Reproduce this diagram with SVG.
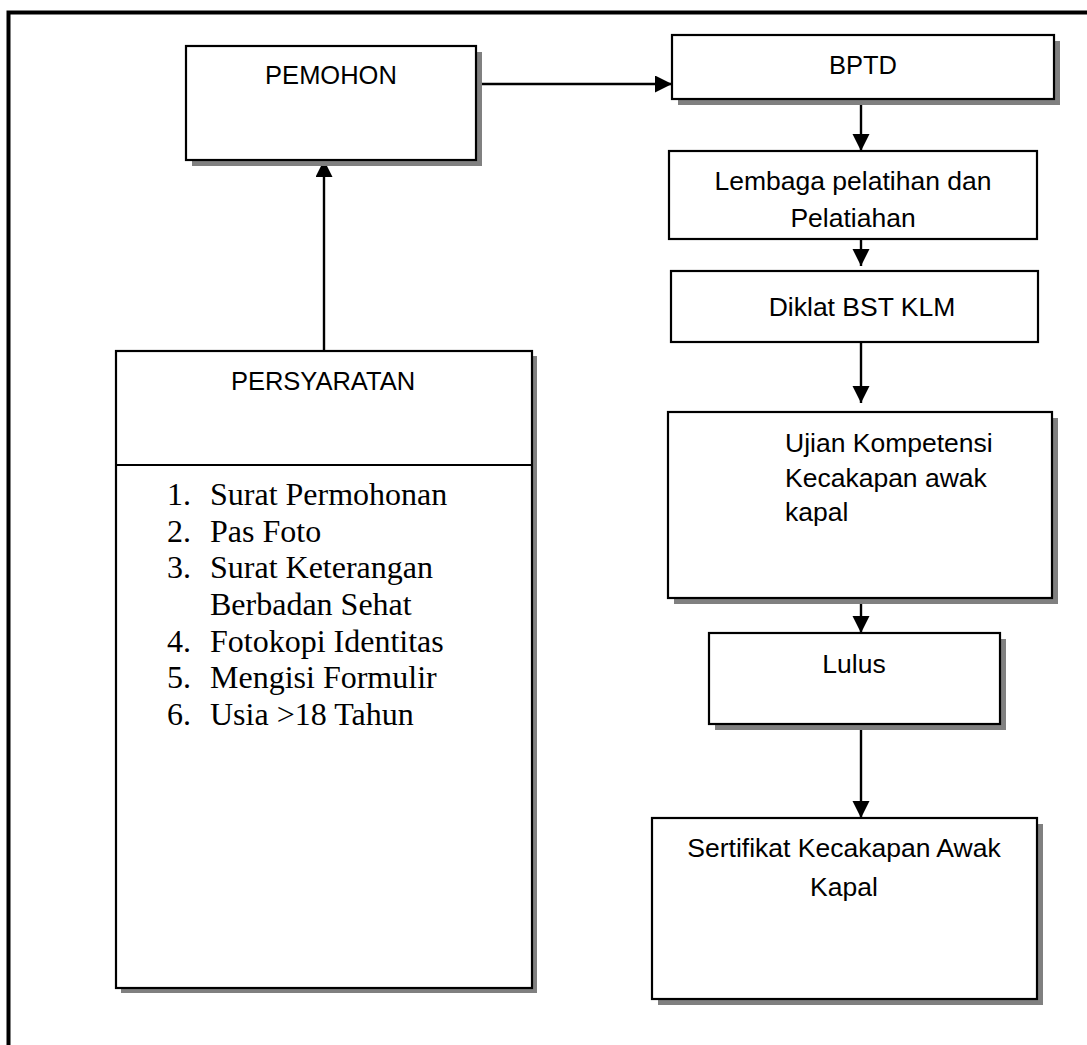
<svg xmlns="http://www.w3.org/2000/svg" width="1087" height="1045" viewBox="0 0 1087 1045">
<style>
.box{fill:#fff;stroke:#000;stroke-width:2.2}
.sh{fill:#808080}
.lbl{font-family:"Liberation Sans",Arial,sans-serif;font-size:26.5px;fill:#000}
.up{font-size:25.5px}
.c{text-anchor:middle}
.lst{font-family:"Liberation Serif","Times New Roman",serif;font-size:32px;fill:#000}
.con{stroke:#000;stroke-width:2.4;fill:none;marker-end:url(#ah)}
</style>
<defs>
<marker id="ah" markerUnits="userSpaceOnUse" markerWidth="18" markerHeight="18" refX="17" refY="8.5" orient="auto">
<path d="M0,0 L17,8.5 L0,17 Z" fill="#000"/>
</marker>
</defs>
<rect width="1087" height="1045" fill="#fff"/>
<path d="M8.5,1045 V12.5 H1087" fill="none" stroke="#000" stroke-width="4"/>

<g id="connectors">
<line class="con" x1="476" y1="84" x2="672" y2="84"/>
<line class="con" x1="861" y1="99" x2="861" y2="151"/>
<line class="con" x1="861" y1="239" x2="861" y2="266"/>
<line class="con" x1="861" y1="342" x2="861" y2="403"/>
<line class="con" x1="861" y1="598" x2="861" y2="633"/>
<line class="con" x1="861" y1="724" x2="861" y2="818"/>
<line class="con" x1="324" y1="351" x2="324" y2="160"/>
</g>

<g id="pemohon">
<rect class="sh" x="192" y="52" width="290" height="114"/>
<rect class="box" x="186" y="46" width="290" height="114"/>
<text class="lbl up c" x="331" y="84">PEMOHON</text>
</g>

<g id="bptd">
<rect class="sh" x="678" y="41" width="382" height="64"/>
<rect class="box" x="672" y="35" width="382" height="64"/>
<text class="lbl up c" x="863" y="74">BPTD</text>
</g>

<g id="lembaga">
<rect class="box" x="669" y="151" width="368" height="88"/>
<text class="lbl c" x="853" y="190">Lembaga pelatihan dan</text>
<text class="lbl c" x="853" y="227">Pelatiahan</text>
</g>

<g id="diklat">
<rect class="box" x="671" y="271" width="367" height="71"/>
<text class="lbl c" x="862" y="316">Diklat BST KLM</text>
</g>

<g id="ujian">
<rect class="sh" x="674" y="418" width="384" height="186"/>
<rect class="box" x="668" y="412" width="384" height="186"/>
<text class="lbl" x="785" y="452">Ujian Kompetensi</text>
<text class="lbl" x="785" y="487">Kecakapan awak</text>
<text class="lbl" x="785" y="521">kapal</text>
</g>

<g id="lulus">
<rect class="sh" x="715" y="639" width="291" height="91"/>
<rect class="box" x="709" y="633" width="291" height="91"/>
<text class="lbl c" x="854" y="673">Lulus</text>
</g>

<g id="sertifikat">
<rect class="sh" x="658" y="824" width="385" height="181"/>
<rect class="box" x="652" y="818" width="385" height="181"/>
<text class="lbl c" x="844" y="857">Sertifikat Kecakapan Awak</text>
<text class="lbl c" x="844" y="896">Kapal</text>
</g>

<g id="persyaratan">
<rect class="sh" x="121" y="356" width="416" height="637"/>
<rect class="box" x="116" y="351" width="416" height="637"/>
<line x1="116" y1="465" x2="532" y2="465" stroke="#000" stroke-width="2.2"/>
<text class="lbl up c" x="323" y="390">PERSYARATAN</text>
<text class="lst" x="167" y="505">1.</text><text class="lst" x="210" y="505">Surat Permohonan</text>
<text class="lst" x="167" y="541.5">2.</text><text class="lst" x="210" y="541.5">Pas Foto</text>
<text class="lst" x="167" y="578">3.</text><text class="lst" x="210" y="578">Surat Keterangan</text>
<text class="lst" x="210" y="615">Berbadan Sehat</text>
<text class="lst" x="167" y="651.5">4.</text><text class="lst" x="210" y="651.5">Fotokopi Identitas</text>
<text class="lst" x="167" y="688">5.</text><text class="lst" x="210" y="688">Mengisi Formulir</text>
<text class="lst" x="167" y="725">6.</text><text class="lst" x="210" y="725">Usia &gt;18 Tahun</text>
</g>
</svg>
